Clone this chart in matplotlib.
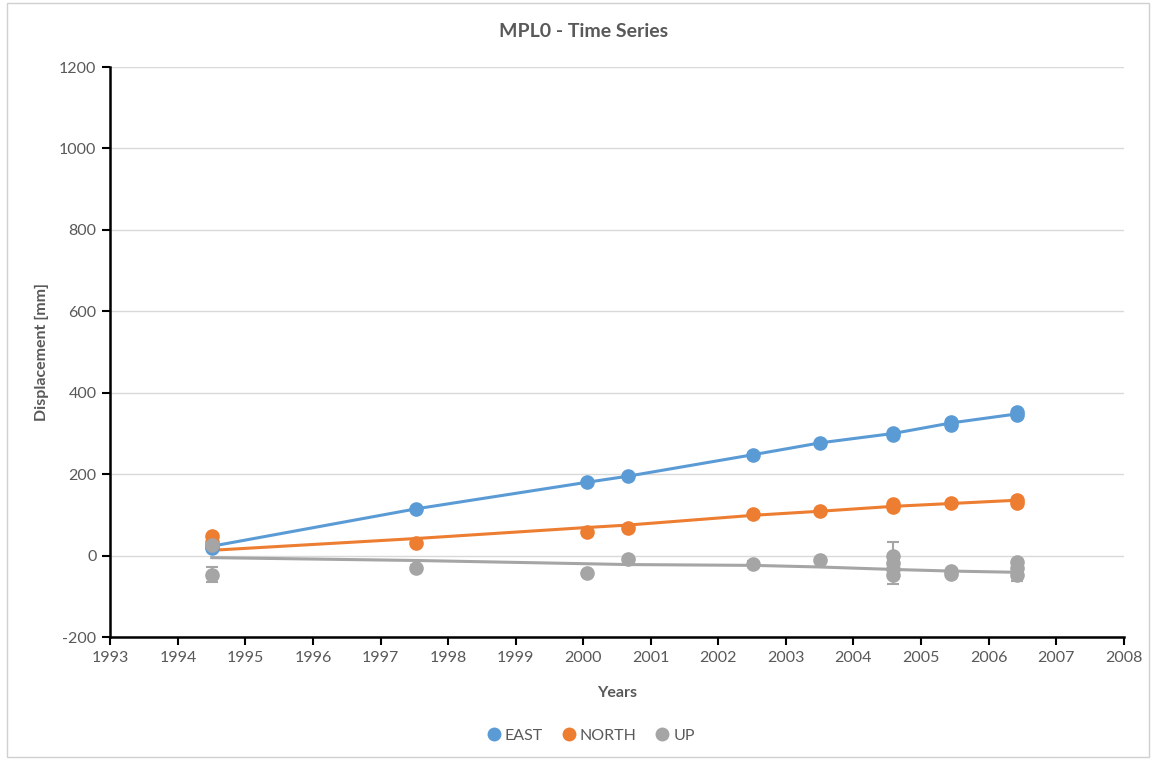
import numpy as np
import matplotlib.pyplot as plt
from matplotlib.patches import Rectangle
from matplotlib.lines import Line2D

plt.rcParams['font.family'] = ['Lato', 'DejaVu Sans']
plt.rcParams['axes.unicode_minus'] = False

# Observation epochs (decimal years) and fitted trend values per epoch
epochs = [1994.50, 1997.53, 2000.05, 2000.66, 2002.52, 2003.51, 2004.59, 2005.45, 2006.42]
east_fit = [23, 115, 180, 195, 248, 277, 300, 326, 348]
north_fit = [13, 42, 69, 75, 99, 109, 121, 128, 136]
up_fit = [-5, -12, -20, -22, -24, -28, -34, -38, -41]

# Individual solutions
east_t = [1994.50, 1994.50, 1997.53, 2000.05, 2000.66, 2002.52, 2003.51,
          2004.59, 2004.59, 2005.45, 2005.45, 2006.42, 2006.42]
east_v = [19, 24, 115, 180, 195, 248, 277, 297, 302, 322, 329, 345, 352]

north_t = [1994.50, 1994.50, 1997.53, 2000.05, 2000.66, 2002.52, 2003.51,
           2004.59, 2004.59, 2005.45, 2006.42, 2006.42]
north_v = [47, 34, 31, 57, 67, 103, 109, 119, 126, 128, 130, 136]

up_t = [1994.50, 1994.50, 1997.53, 2000.05, 2000.66, 2002.52, 2003.51,
        2004.59, 2004.59, 2004.59, 2004.59, 2005.45, 2005.45,
        2006.42, 2006.42, 2006.42]
up_v = [27, -47, -30, -43, -8, -20, -12,
        -2, -18, -33, -47, -38, -45,
        -16, -30, -47]
up_err = [4, 18, 8, 4, 4, 6, 6,
          4, 51, 6, 6, 4, 4,
          4, 4, 16]

c_east = '#5B9BD5'
c_north = '#ED7D31'
c_up = '#A5A5A5'
txt = '#595959'

fig = plt.figure(figsize=(11.56, 7.6), dpi=100)
fig.patches.append(Rectangle((0.006, 0.004), 0.988, 0.992, transform=fig.transFigure,
                             fill=False, edgecolor='#d0d0d0', linewidth=1))
ax = fig.add_axes([0.0955, 0.1618, 0.8765, 0.75])

# trend lines
ax.plot(epochs, up_fit, color=c_up, lw=2.2, zorder=2)
ax.plot(epochs, north_fit, color=c_north, lw=2.2, zorder=2)
ax.plot(epochs, east_fit, color=c_east, lw=2.2, zorder=2)

# observations
ax.plot(east_t, east_v, 'o', color=c_east, ms=9.5, zorder=3)
ax.plot(north_t, north_v, 'o', color=c_north, ms=9.5, zorder=3)
ax.errorbar(up_t, up_v, yerr=up_err, fmt='o', color=c_up, ms=9.5,
            elinewidth=1.5, capsize=4, capthick=1.5, zorder=4)

ax.set_xlim(1993, 2008)
ax.set_ylim(-200, 1200)
ax.set_xticks(np.arange(1993, 2009, 1))
ax.set_yticks(np.arange(-200, 1201, 200))
ax.yaxis.grid(True, color='#d9d9d9', lw=1)
ax.set_axisbelow(True)
for s in ['top', 'right']:
    ax.spines[s].set_visible(False)
for s in ['left', 'bottom']:
    ax.spines[s].set_linewidth(1.8)
    ax.spines[s].set_color('black')
ax.tick_params(axis='both', direction='out', length=6, width=1.5, colors='black',
               labelcolor=txt, labelsize=11.5, pad=4)

ax.set_xlabel('Years', fontsize=11.5, fontweight='bold', color=txt, labelpad=15)
ax.set_ylabel('Displacement [mm]', fontsize=11.5, fontweight='bold', color=txt, labelpad=7)
fig.text(0.505, 0.958, 'MPL0 - Time Series', ha='center', va='center',
         fontsize=14, fontweight='bold', color=txt)

handles = [Line2D([], [], ls='', marker='o', ms=9, color=c) for c in (c_east, c_north, c_up)]
fig.legend(handles, ['EAST', 'NORTH', 'UP'], loc='center', bbox_to_anchor=(0.51, 0.032),
           ncol=3, frameon=False, fontsize=11.5, labelcolor=txt,
           handletextpad=0.1, columnspacing=1.0, handlelength=1.2)

fig.savefig('out.png', dpi=100)
